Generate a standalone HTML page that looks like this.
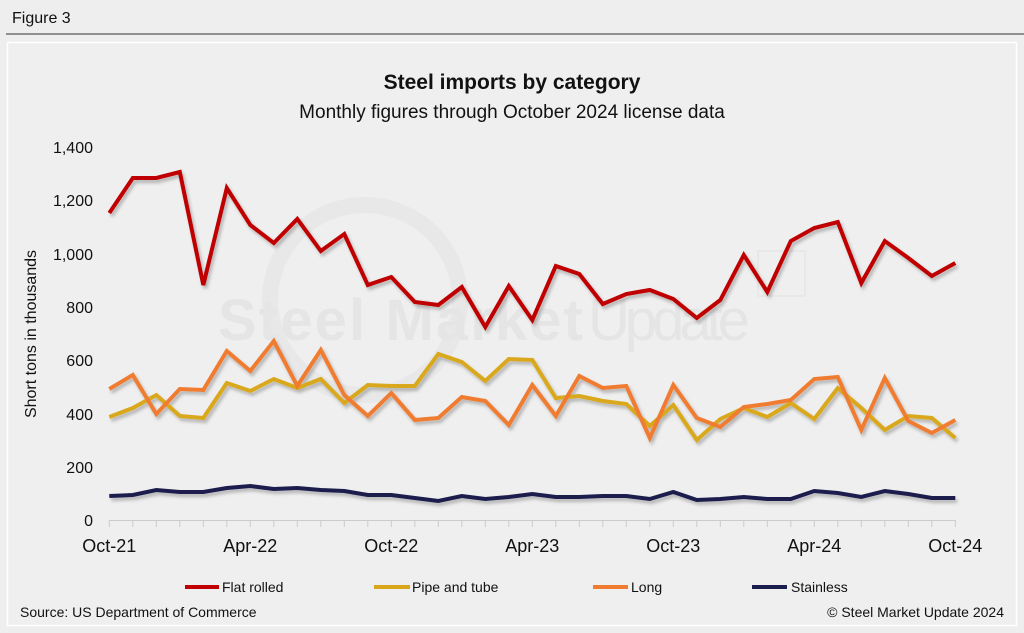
<!DOCTYPE html>
<html><head><meta charset="utf-8"><style>
html,body{margin:0;padding:0;background:#eeeeee;}
body{width:1024px;height:633px;overflow:hidden;position:relative;font-family:"Liberation Sans",sans-serif;}
</style></head><body>
<svg width="1024" height="633" xmlns="http://www.w3.org/2000/svg" style="position:absolute;left:0;top:0">
<defs>
<filter id="sh" x="-5%" y="-5%" width="110%" height="120%">
<feDropShadow dx="2" dy="3" stdDeviation="1.5" flood-color="#000" flood-opacity="0.25"/>
</filter>
</defs>
<rect x="0" y="0" width="1024" height="633" fill="#eeeeee"/>
<text x="12" y="23" font-size="16" fill="#111">Figure 3</text>
<line x1="6" y1="34" x2="1024" y2="34" stroke="#333" stroke-width="1"/>
<rect x="7.5" y="42.5" width="1009" height="583" fill="#efefef" stroke="#fff" stroke-width="1.5"/>
<text x="512" y="89" font-size="21" font-weight="bold" text-anchor="middle" fill="#111">Steel imports by category</text>
<text x="512" y="118" font-size="19" text-anchor="middle" fill="#111">Monthly figures through October 2024 license data</text>
<!-- watermark -->
<circle cx="365" cy="300" r="95" fill="none" stroke="#e8e8e8" stroke-width="16"/>
<text x="218" y="340" font-size="58" font-weight="bold" fill="#e5e5e5" textLength="365">Steel Market</text>
<text x="588" y="340" font-size="58" fill="#e5e5e5" textLength="162">Update</text>
<rect x="758" y="251" width="47" height="45" fill="none" stroke="#e5e5e5" stroke-width="1.5"/>
<!-- y axis labels -->
<g font-size="16" text-anchor="end" fill="#111">
<text x="93" y="153">1,400</text>
<text x="93" y="206">1,200</text>
<text x="93" y="260">1,000</text>
<text x="93" y="313">800</text>
<text x="93" y="366">600</text>
<text x="93" y="420">400</text>
<text x="93" y="473">200</text>
<text x="93" y="526">0</text>
</g>
<text transform="translate(36,334) rotate(-90)" font-size="16" text-anchor="middle" fill="#111">Short tons in thousands</text>
<line x1="109" y1="520.5" x2="956" y2="520.5" stroke="#ccc" stroke-width="1"/>
<g id="ticks" stroke="#ccc" stroke-width="1"></g>
<g font-size="18" text-anchor="middle" fill="#111">
<text x="109.3" y="552">Oct-21</text>
<text x="250.3" y="552">Apr-22</text>
<text x="391.3" y="552">Oct-22</text>
<text x="532.3" y="552">Apr-23</text>
<text x="673.3" y="552">Oct-23</text>
<text x="814.3" y="552">Apr-24</text>
<text x="955.3" y="552">Oct-24</text>
</g>
<g id="series" fill="none" stroke-width="4" stroke-linejoin="miter" filter="url(#sh)"></g>
<!-- legend -->
<g stroke-width="4">
<line x1="185" y1="587" x2="219" y2="587" stroke="#c00000"/>
<line x1="374" y1="587" x2="410" y2="587" stroke="#d9a81a"/>
<line x1="593" y1="587" x2="628" y2="587" stroke="#f07c30"/>
<line x1="752" y1="587" x2="787" y2="587" stroke="#1a1f4d"/>
</g>
<g font-size="14" fill="#111">
<text x="222" y="592">Flat rolled</text>
<text x="412" y="592">Pipe and tube</text>
<text x="631" y="592">Long</text>
<text x="791" y="592">Stainless</text>
<text x="20" y="617">Source: US Department of Commerce</text>
<text x="1004" y="617" text-anchor="end">© Steel Market Update 2024</text>
</g>
</svg>
<script>
var ns="http://www.w3.org/2000/svg";
var x0=109.3,dx=23.5;
var t=document.getElementById("ticks");
for(var i=0;i<=36;i++){var l=document.createElementNS(ns,"line");var x=x0+i*dx;l.setAttribute("x1",x);l.setAttribute("x2",x);l.setAttribute("y1",520);l.setAttribute("y2",527);t.appendChild(l);}
var S=[
["#1a1f4d",[496,495,490,492,492,488,486,489,488,490,491,495,495,498,501,496,499,497,494,497,497,496,496,499,492,500,499,497,499,499,491,493,497,491,494,498,498]],
["#d9a81a",[417,408,395,416,418,383,391,379,388,379,403,385,386,386,354,362,381,359,360,398,396,401,404,426,405,440,419,408,417,403,419,388,408,430,416,418,438]],
["#f07c30",[389,375,414,389,390,351,371,341,386,350,395,416,393,420,418,397,401,425,385,416,376,388,386,438,385,418,427,407,404,400,379,377,430,378,421,433,420]],
["#c00000",[213,178,178,172,285,188,225,243,219,251,234,285,277,302,305,287,327,286,320,266,274,304,294,290,299,318,300,255,292,241,228,222,283,241,258,276,263]]
];
var g=document.getElementById("series");
S.forEach(function(s){var p=document.createElementNS(ns,"polyline");p.setAttribute("points",s[1].map(function(y,i){return (x0+i*dx).toFixed(1)+","+y}).join(" "));p.setAttribute("stroke",s[0]);g.appendChild(p);});
</script>
</body></html>
